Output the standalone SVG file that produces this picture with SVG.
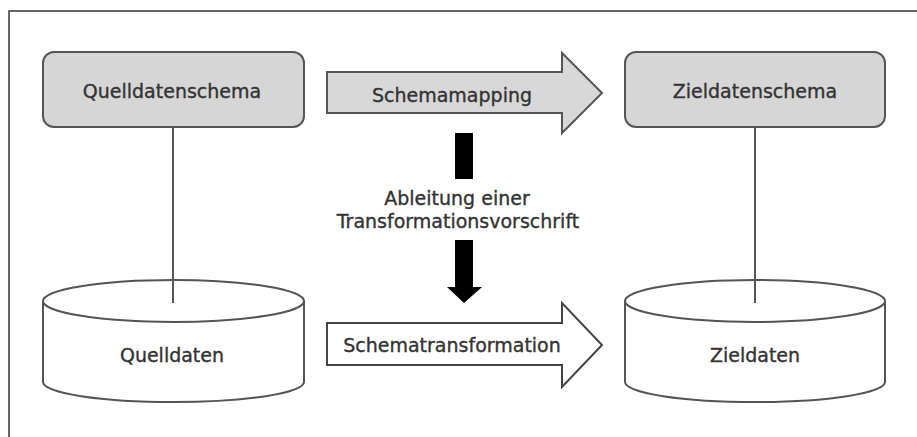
<svg xmlns="http://www.w3.org/2000/svg" width="917" height="437" viewBox="0 0 917 437">
<style>
.frame{fill:none;stroke:#333;stroke-width:1.5}
.box{fill:#d6d6d6;stroke:#555;stroke-width:2}
.cyl{fill:#fff;stroke:#555;stroke-width:2}
.line{fill:none;stroke:#555;stroke-width:2}
.arrG{fill:#d8d8d8;stroke:#555;stroke-width:2;stroke-linejoin:miter}
.arrW{fill:#fff;stroke:#444;stroke-width:2;stroke-linejoin:miter}
.blk{fill:#000}
text{font-family:"DejaVu Sans",Verdana,sans-serif;font-size:19px;fill:#333;stroke:#333;stroke-width:0.35;text-anchor:middle}
</style>
<rect width="917" height="437" fill="#fff"/>
<rect class="frame" x="9" y="11" width="920" height="440"/>
<g id="connectors">
<line class="line" x1="173" y1="127" x2="173" y2="303"/>
<line class="line" x1="755" y1="127" x2="755" y2="303"/>
</g>
<g id="quelldatenschema">
<rect class="box" x="43" y="52" width="261" height="75" rx="11"/>
<text x="172" y="98">Quelldatenschema</text>
</g>
<g id="zieldatenschema">
<rect class="box" x="625" y="52" width="260" height="75" rx="11"/>
<text x="755" y="98">Zieldatenschema</text>
</g>
<g id="schemamapping">
<path class="arrG" d="M327,72 H562 V53 L602,93 L562,133 V113 H327 Z"/>
<text x="452" y="102">Schemamapping</text>
</g>
<g id="ableitung">
<rect class="blk" x="455" y="133" width="18" height="46"/>
<text x="457" y="205">Ableitung einer</text>
<text x="458" y="228">Transformationsvorschrift</text>
<path class="blk" d="M455,240 H473 V287 H482 L464,303 L447,287 H455 Z"/>
</g>
<g id="schematransformation">
<path class="arrW" d="M327,323 H562 V303 L602,345 L562,387 V365 H327 Z"/>
<text x="452" y="352">Schematransformation</text>
</g>
<g id="quelldaten">
<path class="cyl" d="M43,301 V382 A130.5,20 0 0 0 304,382 V301"/>
<ellipse class="cyl" cx="173.5" cy="301" rx="130.5" ry="21"/>
<line class="line" x1="173" y1="280" x2="173" y2="303"/>
<text x="172" y="362">Quelldaten</text>
</g>
<g id="zieldaten">
<path class="cyl" d="M625,301 V382 A130,20 0 0 0 885,382 V301"/>
<ellipse class="cyl" cx="755" cy="301" rx="130" ry="21"/>
<line class="line" x1="755" y1="280" x2="755" y2="303"/>
<text x="755" y="362">Zieldaten</text>
</g>
</svg>
